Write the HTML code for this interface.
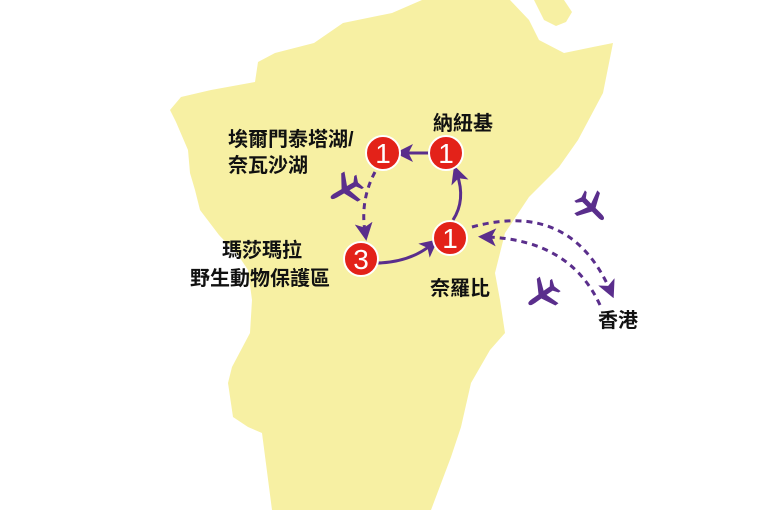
<!DOCTYPE html>
<html><head><meta charset="utf-8"><style>
body{margin:0;background:#fff;width:768px;height:510px;overflow:hidden}
svg{display:block}
text{font-family:"Liberation Sans","Noto Sans CJK TC",sans-serif;font-weight:bold;font-size:20px;fill:#111}
.n{fill:#fff;font-size:28px;font-weight:normal;text-anchor:middle}
</style></head><body>
<svg width="768" height="510" viewBox="0 0 768 510">
<defs>
<marker id="ah" markerWidth="6" markerHeight="6" refX="3" refY="3" orient="auto" markerUnits="strokeWidth"><path d="M0,0 L6,3 L0,6 L1.5,3 z" fill="#5a2e8c"/></marker>
<g id="pl"><path d="M0,-13 C2,-13 2,-10 2,-7 L2,-2 L13,4 L13,7 L2,3 L2,9 L6,12 L6,14 L0,12 L-6,14 L-6,12 L-2,9 L-2,3 L-13,7 L-13,4 L-2,-2 L-2,-7 C-2,-10 -2,-13 0,-13z" fill="#5a2e8c"/></g>
</defs>
<path d="M422,0 L392,13 L343,23 L314,43 L275,53 L258,62 L255,82 L211,90 L181,97 L170,110 L176,122 L188,150 L190,173 L195,190 L200,210 L219,235 L238,255 L248,270 L252,300 L250,333 L232,367 L228,383 L233,417 L248,427 L262,433 L272,510 L431,510 L451,457 L461,427 L471,383 L490,350 L505,333 L500,300 L495,273 L505,233 L529,197 L559,167 L578,140 L603,93 L613,43 L593,47 L564,53 L539,40 L529,20 L510,0 Z" fill="#f7f0a3"/>
<path d="M534,0 L544,20 L556,26 L566,22 L572,12 L564,0 Z" fill="#f7f0a3"/>
<g stroke="#5a2e8c" stroke-width="3" fill="none">
<path d="M430,153 L404,153" marker-end="url(#ah)"/>
<path d="M453,220 Q466,200 457,174" marker-end="url(#ah)"/>
<path d="M375,172 Q360,200 365,232" stroke-dasharray="6,5" marker-end="url(#ah)"/>
<path d="M378,263 Q410,262 431,245" marker-end="url(#ah)"/>
<path d="M472,227 Q570,200 610,290" stroke-dasharray="6,5" marker-end="url(#ah)"/>
<path d="M600,305 Q570,240 487,237" stroke-dasharray="6,5" marker-end="url(#ah)"/>
</g>
<g fill="#e32219" stroke="#fff" stroke-width="2">
<circle cx="383" cy="153" r="17"/><circle cx="446" cy="153" r="17"/>
<circle cx="450" cy="238" r="17"/><circle cx="361" cy="259" r="17"/>
</g>
<text class="n" x="383" y="163">1</text><text class="n" x="446" y="163">1</text>
<text class="n" x="450" y="248">1</text><text class="n" x="361" y="269">3</text>
<use href="#pl" transform="translate(345,190) rotate(-120) scale(1.25)"/>
<use href="#pl" transform="translate(592,208) rotate(135) scale(1.25)"/>
<use href="#pl" transform="translate(542,295) rotate(-125) scale(1.25)"/>
<text x="433" y="130">納紐基</text>
<text x="228" y="146">埃爾門泰塔湖/</text>
<text x="228" y="172">奈瓦沙湖</text>
<text x="222" y="257">瑪莎瑪拉</text>
<text x="190" y="285">野生動物保護區</text>
<text x="430" y="295">奈羅比</text>
<text x="598" y="327">香港</text>
</svg>
</body></html>
